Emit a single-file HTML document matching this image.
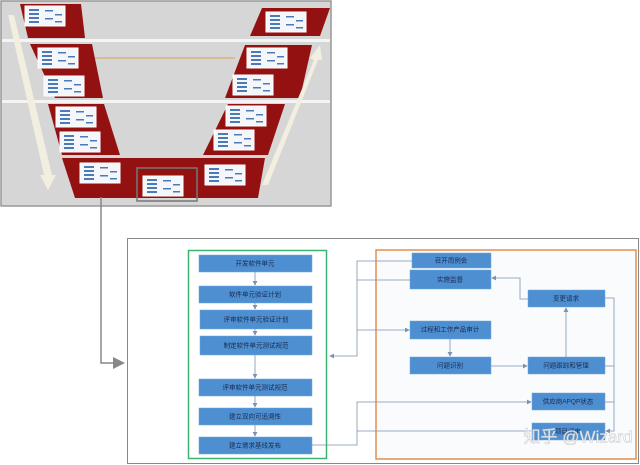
<!DOCTYPE html>
<html><head><meta charset="utf-8"><style>
html,body{margin:0;padding:0;background:#fff;width:640px;height:465px;overflow:hidden}
svg text{font-family:"Liberation Sans","Noto Sans CJK SC",sans-serif;font-size:6.5px;fill:#1a2a50;text-anchor:middle;dominant-baseline:middle}
</style></head><body>
<svg width="640" height="465" viewBox="0 0 640 465" xmlns="http://www.w3.org/2000/svg">
<defs>
<marker id="a" markerWidth="6" markerHeight="6" refX="5" refY="3" orient="auto"><path d="M0,0L6,3L0,6z" fill="#7a93b0"/></marker>
<marker id="g" markerWidth="8" markerHeight="8" refX="6" refY="4" orient="auto"><path d="M0,0L8,4L0,8z" fill="#888"/></marker>
<g id="mini"><rect width="40" height="20" fill="#f4f6fa" stroke="#fff"/><g fill="#4b7ab8"><rect x="4" y="3" width="10" height="2"/><rect x="4" y="7" width="10" height="2"/><rect x="4" y="11" width="10" height="2"/><rect x="4" y="15" width="10" height="2"/><rect x="20" y="4" width="8" height="1.5"/><rect x="30" y="8" width="7" height="1.5"/><rect x="20" y="12" width="8" height="1.5"/><rect x="30" y="15" width="7" height="1.5"/></g></g>
</defs>
<!-- top picture -->
<rect x="1" y="1" width="330" height="205" fill="#d6d6d6" stroke="#999" stroke-width="1.5"/>
<rect x="2" y="39" width="328" height="3" fill="#f4f4f4"/>
<rect x="2" y="100" width="328" height="3" fill="#f4f4f4"/>
<g fill="#941111">
<polygon points="20,4 81,4 85,38 28,38"/>
<polygon points="30,44 92,44 103,98 55,98"/>
<polygon points="48,104 104,104 120,155 62,155"/>
<polygon points="62,158 265,158 258,198 75,198"/>
<polygon points="262,8 330,8 320,36 250,36"/>
<polygon points="245,45 312,45 300,98 225,98"/>
<polygon points="228,104 285,104 268,155 203,155"/>
</g>
<polygon points="8,15 14,15 52,175 56,175 48,190 40,175 44,175" fill="#f2efe0"/>
<polygon points="262,185 268,185 318,60 322,60 320,45 310,58 314,60" fill="#f2efe0"/>
<line x1="95" y1="58" x2="235" y2="58" stroke="#d8a050" stroke-width="1"/>
<g>
<use href="#mini" x="25" y="6" transform="translate(0,0) scale(1)"/>
<use href="#mini" x="38" y="48"/>
<use href="#mini" x="44" y="76"/>
<use href="#mini" x="56" y="107"/>
<use href="#mini" x="60" y="132"/>
<use href="#mini" x="80" y="163"/>
<use href="#mini" x="143" y="176"/>
<use href="#mini" x="205" y="165"/>
<use href="#mini" x="266" y="12"/>
<use href="#mini" x="247" y="48"/>
<use href="#mini" x="233" y="75"/>
<use href="#mini" x="226" y="106"/>
<use href="#mini" x="214" y="130"/>
</g>
<rect x="137" y="168" width="60" height="33" fill="none" stroke="#777" stroke-width="1.5"/>
<!-- connector -->
<polyline points="101,197 101,363 122,363" fill="none" stroke="#888" stroke-width="1.5" marker-end="url(#g)"/>
<!-- bottom box -->
<rect x="127.5" y="238.5" width="511" height="225" fill="#fff" stroke="#888"/>
<rect x="188.5" y="250.5" width="138" height="208" fill="none" stroke="#3cb371" stroke-width="1.5"/>
<rect x="376" y="250" width="260" height="209" fill="#fafbfd" stroke="#e09050" stroke-width="1.5"/>
<g fill="#4d8fd0" stroke="#6fa8dc" stroke-width="0.5">
<rect x="199" y="255" width="113" height="17"/>
<rect x="199" y="286" width="113" height="17"/>
<rect x="200" y="310" width="112" height="19"/>
<rect x="200" y="336" width="112" height="19"/>
<rect x="199" y="379" width="113" height="17"/>
<rect x="199" y="408" width="113" height="17"/>
<rect x="199" y="437" width="113" height="17"/>
<rect x="412" y="253" width="79" height="15"/>
<rect x="410" y="270" width="81" height="19"/>
<rect x="410" y="321" width="81" height="18"/>
<rect x="410" y="357" width="81" height="17"/>
<rect x="528" y="290" width="77" height="17"/>
<rect x="528" y="357" width="77" height="17"/>
<rect x="532" y="393" width="73" height="17"/>
<rect x="532" y="423" width="73" height="17"/>
</g>
<g>
<text x="255" y="264">开发软件单元</text>
<text x="255" y="295">软件单元验证计划</text>
<text x="256" y="320">评审软件单元验证计划</text>
<text x="256" y="346">制定软件单元测试规范</text>
<text x="255" y="388">评审软件单元测试规范</text>
<text x="255" y="417">建立双向可追溯性</text>
<text x="255" y="446">建立需求基线发布</text>
<text x="451" y="261">召开周例会</text>
<text x="450" y="280">实施监督</text>
<text x="450" y="330">过程和工作产品审计</text>
<text x="450" y="366">问题识别</text>
<text x="566" y="299">变更请求</text>
<text x="566" y="366">问题跟踪和管理</text>
<text x="568" y="402">供应商APQP状态</text>
<text x="568" y="432">项目评审</text>
</g>
<g stroke="#7a93b0" stroke-width="0.8" fill="none">
<line x1="255" y1="272" x2="255" y2="285" marker-end="url(#a)"/>
<line x1="255" y1="303" x2="255" y2="309" marker-end="url(#a)"/>
<line x1="255" y1="329" x2="255" y2="335" marker-end="url(#a)"/>
<line x1="255" y1="355" x2="255" y2="378" marker-end="url(#a)"/>
<line x1="255" y1="396" x2="255" y2="407" marker-end="url(#a)"/>
<line x1="255" y1="425" x2="255" y2="436" marker-end="url(#a)"/>
<polyline points="412,261 357,261 357,356 330,356" marker-end="url(#a)"/>
<line x1="410" y1="280" x2="357" y2="280"/>
<line x1="357" y1="330" x2="409" y2="330" marker-end="url(#a)"/>
<line x1="450" y1="339" x2="450" y2="356" marker-end="url(#a)"/>
<line x1="491" y1="366" x2="527" y2="366" marker-end="url(#a)"/>
<line x1="566" y1="357" x2="566" y2="308" marker-end="url(#a)"/>
<polyline points="528,299 520,299 520,278 492,278" marker-end="url(#a)"/>
<polyline points="312,445 357,445 357,402 531,402" marker-end="url(#a)"/>
<line x1="357" y1="431" x2="531" y2="431"/>
<polyline points="605,298 614,298 614,431 606,431" marker-end="url(#a)"/>
<line x1="605" y1="366" x2="614" y2="366"/>
<line x1="605" y1="402" x2="614" y2="402"/>
</g>
<text x="578" y="438" style="font-size:17px;fill:#fff;stroke:#c8c8c8;stroke-width:0.6;opacity:0.9">知乎 @Wizard</text>
</svg>
</body></html>
